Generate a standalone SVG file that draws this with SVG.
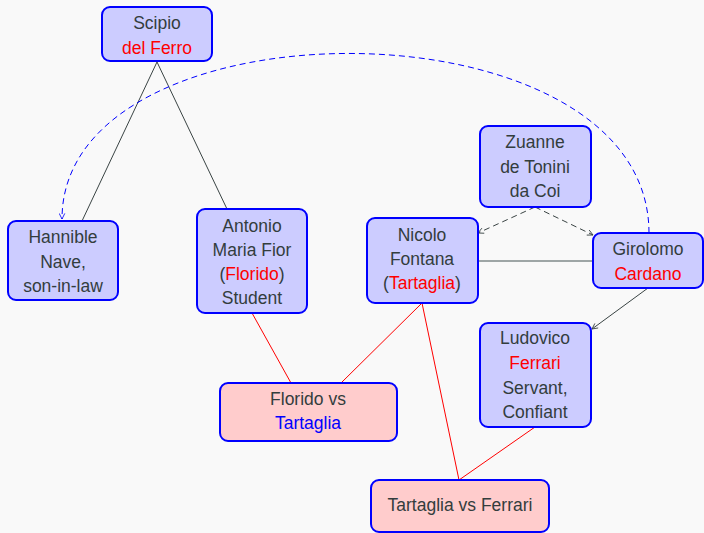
<svg xmlns="http://www.w3.org/2000/svg" width="704" height="533" viewBox="0 0 704 533">
<style>
.bn{fill:#ccccff;stroke:#0000ff;stroke-width:2}
.pn{fill:#ffcccc;stroke:#0000ff;stroke-width:2}
text{font-family:"Liberation Sans",Arial,sans-serif;font-size:17.5px;fill:#333d3d;text-anchor:middle}
.r{fill:#ff0000}
.b{fill:#0000ff}
.dk{stroke:#3a4444;stroke-width:1;fill:none}
.red{stroke:#ff0000;stroke-width:1;fill:none}
</style>
<defs>
<marker id="ag" viewBox="0 0 10 10" refX="9" refY="5" markerWidth="7" markerHeight="7" markerUnits="userSpaceOnUse" orient="auto">
<path d="M1,1 L9,5 L1,9" fill="none" stroke="#3a4444" stroke-width="1.2"/>
</marker>
<marker id="ab" viewBox="0 0 10 10" refX="9" refY="5" markerWidth="7" markerHeight="7" markerUnits="userSpaceOnUse" orient="auto">
<path d="M1,1 L9,5 L1,9" fill="none" stroke="#0000ff" stroke-width="1.2"/>
</marker>
</defs>
<rect width="704" height="533" fill="#f9f9f9"/>
<g id="connectors">
<path class="dk" d="M157,62 L82,221"/>
<path class="dk" d="M157,62 L227,209"/>
<path d="M649,233 C649,-4 62,-4 62,219" fill="none" stroke="#0000ff" stroke-width="1" stroke-dasharray="6,4" marker-end="url(#ab)"/>
<path class="dk" d="M535,207 L478,233" stroke-dasharray="6,4" marker-end="url(#ag)"/>
<path class="dk" d="M535,207 L593,235" stroke-dasharray="6,4" marker-end="url(#ag)"/>
<path d="M478,261 L593,261" stroke="#7f8a8a" stroke-width="1.3" fill="none"/>
<path class="dk" d="M648,288 L592,329" marker-end="url(#ag)"/>
<path class="red" d="M252,313 L291,383"/>
<path class="red" d="M422,303 L341,383"/>
<path class="red" d="M422,303 L459,480"/>
<path class="red" d="M535,427 L459,480"/>
</g>
<g id="scipio"><rect class="bn" x="102" y="7" width="110" height="54" rx="8"/><text x="157" y="29">Scipio</text><text x="157" y="54" class="r">del Ferro</text></g>
<g id="hannible"><rect class="bn" x="8" y="221" width="110" height="79" rx="8"/><text x="63" y="243">Hannible</text><text x="63" y="268">Nave,</text><text x="63" y="292">son-in-law</text></g>
<g id="antonio"><rect class="bn" x="197" y="209" width="110" height="104" rx="8"/><text x="252" y="232">Antonio</text><text x="252" y="256">Maria Fior</text><text x="252" y="280">(<tspan class="r">Florido</tspan>)</text><text x="252" y="304">Student</text></g>
<g id="zuanne"><rect class="bn" x="480" y="126" width="111" height="81" rx="8"/><text x="535" y="148">Zuanne</text><text x="535" y="173">de Tonini</text><text x="535" y="197">da Coi</text></g>
<g id="nicolo"><rect class="bn" x="367" y="218" width="111" height="85" rx="8"/><text x="422" y="241">Nicolo</text><text x="422" y="265">Fontana</text><text x="422" y="289">(<tspan class="r">Tartaglia</tspan>)</text></g>
<g id="girolomo"><rect class="bn" x="593" y="233" width="110" height="55" rx="8"/><text x="648" y="255">Girolomo</text><text x="648" y="280" class="r">Cardano</text></g>
<g id="ludovico"><rect class="bn" x="480" y="323" width="111" height="104" rx="8"/><text x="535" y="344">Ludovico</text><text x="535" y="369" class="r">Ferrari</text><text x="535" y="394">Servant,</text><text x="535" y="418">Confiant</text></g>
<g id="florido-vs"><rect class="pn" x="220" y="383" width="177" height="58" rx="8"/><text x="308" y="405">Florido vs</text><text x="308" y="429" class="b">Tartaglia</text></g>
<g id="tartaglia-vs"><rect class="pn" x="371" y="480" width="178" height="52" rx="8"/><text x="460" y="511">Tartaglia vs Ferrari</text></g>
</svg>
